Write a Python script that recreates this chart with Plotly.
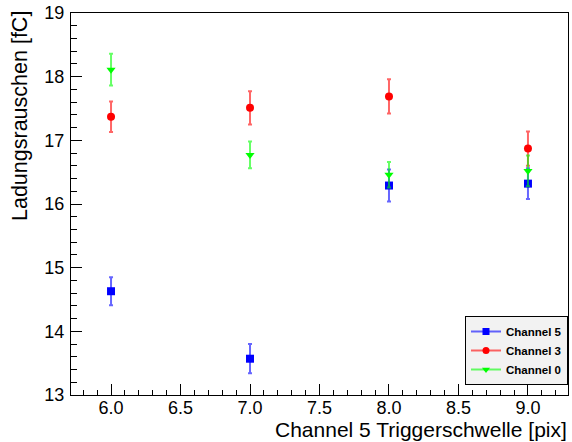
import plotly.graph_objects as go

x_vals = [6.0, 7.0, 8.0, 9.0]
ch5_y = [14.63, 13.57, 16.29, 16.32]
ch5_err = [0.22, 0.23, 0.25, 0.24]
ch3_y = [17.37, 17.51, 17.69, 16.87]
ch3_err = [0.24, 0.26, 0.27, 0.27]
ch0_y = [18.11, 16.77, 16.46, 16.52]
ch0_err = [0.25, 0.21, 0.20, 0.24]

series = [
    ("Channel 5", ch5_y, ch5_err, "#0000ff", "rgba(0,0,255,0.6)", "square", 8),
    ("Channel 3", ch3_y, ch3_err, "#ff0000", "rgba(255,0,0,0.6)", "circle", 8),
    ("Channel 0", ch0_y, ch0_err, "#00ff00", "rgba(0,255,0,0.6)", "triangle-down", 8),
]

L, R, T, B, W, H = 71, 4, 13, 47, 572, 442
PW, PH = W - L - R, H - T - B


def px(xp):
    return (xp - L) / PW


def py(yp):
    return 1 - (yp - T) / PH


fig = go.Figure()
for name, ys, errs, col, ecol, sym, sz in series:
    fig.add_trace(go.Scatter(
        x=x_vals, y=ys, mode="markers", name=name, showlegend=False,
        marker=dict(color=col, symbol=sym, size=sz),
        error_y=dict(type="data", array=errs, visible=True, color=ecol,
                     thickness=2, width=2),
    ))
for name, ys, errs, col, ecol, sym, sz in series:
    fig.add_trace(go.Scatter(
        x=[None], y=[None], mode="lines+markers", name=name, showlegend=True,
        marker=dict(color=col, symbol=sym, size=7),
        line=dict(color=ecol, width=2),
    ))

fig.update_layout(
    width=W, height=H,
    margin=dict(l=L, r=R, t=T, b=B),
    paper_bgcolor="white", plot_bgcolor="white",
    font=dict(family="Liberation Sans, Arial, sans-serif", size=18, color="black"),
    xaxis=dict(
        range=[5.712, 9.288], tickmode="linear", tick0=6.0, dtick=0.5,
        tickformat=".1f", ticks="inside", ticklen=11, tickwidth=1, tickcolor="black",
        showline=True, linecolor="black", linewidth=1, mirror=True,
        showgrid=False, zeroline=False, ticklabelstandoff=-4,
        minor=dict(ticks="inside", ticklen=5, dtick=0.1, tick0=6.0, tickcolor="black", showgrid=False),
        tickfont=dict(size=18),
    ),
    yaxis=dict(
        range=[13, 19], tickmode="linear", tick0=13, dtick=1,
        ticks="inside", ticklen=11, tickwidth=1, tickcolor="black",
        showline=True, linecolor="black", linewidth=1, mirror=True,
        showgrid=False, zeroline=False, ticklabelstandoff=2,
        minor=dict(ticks="inside", ticklen=6, dtick=0.2, tick0=13, tickcolor="black", showgrid=False),
        tickfont=dict(size=18),
    ),
    legend=dict(
        x=px(465), y=py(316), xanchor="left", yanchor="top",
        bgcolor="#f2f2f2", bordercolor="black", borderwidth=1,
        font=dict(size=11.5, family="Liberation Sans, Arial, sans-serif", weight="bold"),
        itemwidth=30, tracegroupgap=0, traceorder="normal",
    ),
    shapes=[
        dict(type="rect", xref="paper", yref="paper",
             x0=px(469), x1=px(567), y0=py(320), y1=py(384),
             fillcolor="black", line=dict(width=0), layer="above"),
    ],
    annotations=[
        dict(text="Ladungsrauschen [fC]", xref="paper", yref="paper",
             x=px(20), y=py(9), xanchor="center", yanchor="top", textangle=-90,
             showarrow=False, font=dict(size=21.5)),
        dict(text="Channel 5 Triggerschwelle [pix]", xref="paper", yref="paper",
             x=px(569), y=py(429), xanchor="right", yanchor="middle",
             showarrow=False, font=dict(size=21)),
    ],
)

fig.write_html("out.html")
